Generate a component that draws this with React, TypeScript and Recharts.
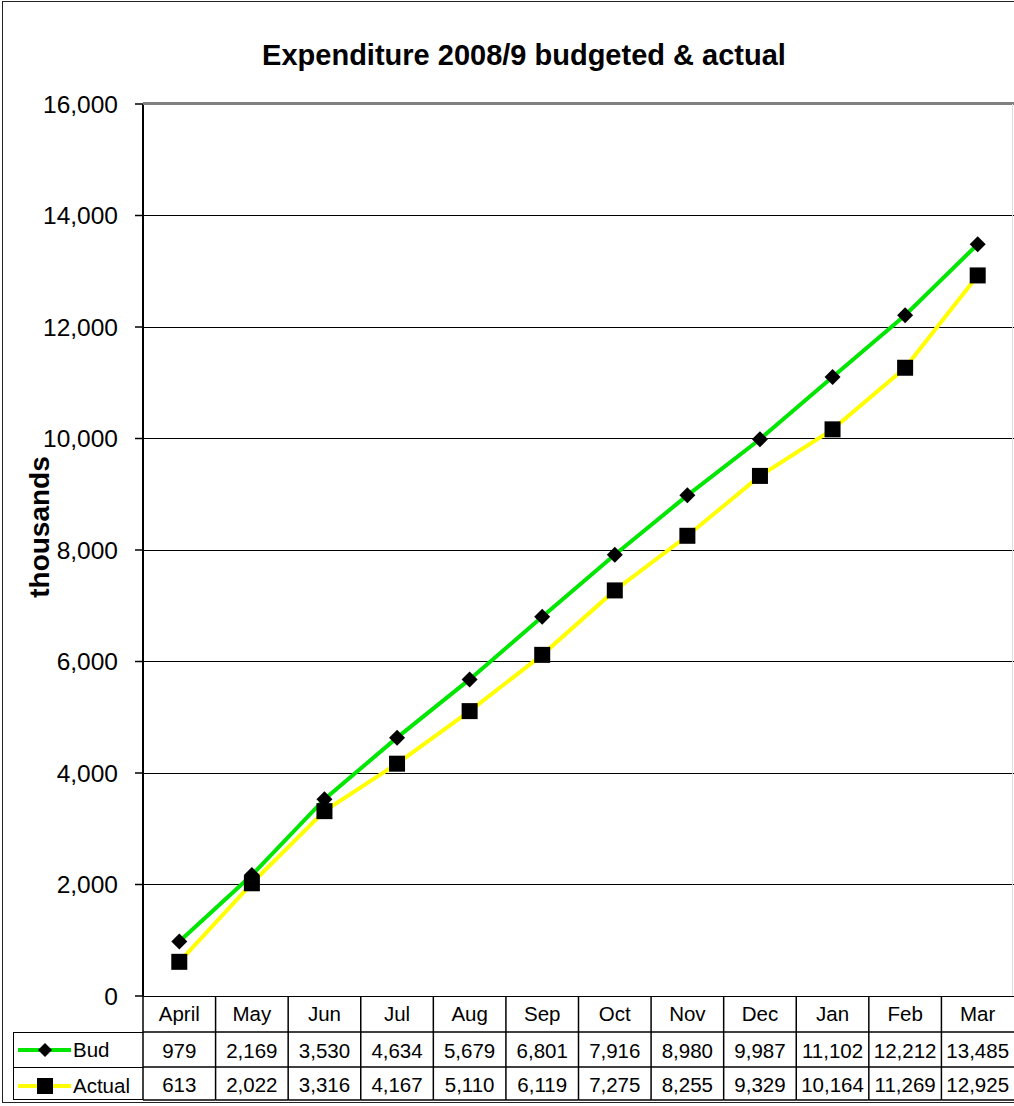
import { LineChart, Line, XAxis, YAxis, CartesianGrid } from 'recharts';

const months = ['April', 'May', 'Jun', 'Jul', 'Aug', 'Sep', 'Oct', 'Nov', 'Dec', 'Jan', 'Feb', 'Mar'];
const budgeted = [979, 2169, 3530, 4634, 5679, 6801, 7916, 8980, 9987, 11102, 12212, 13485];
const actual = [613, 2022, 3316, 4167, 5110, 6119, 7275, 8255, 9329, 10164, 11269, 12925];
const yTicks = [0, 2000, 4000, 6000, 8000, 10000, 12000, 14000, 16000];

const FONT = '"Liberation Sans", Arial, sans-serif';
const GREEN = '#00e600';
const YELLOW = '#ffff00';

const chartData = months.map((m, i) => ({ month: m, bud: budgeted[i], actual: actual[i] }));

const fmt = (v: number) => v.toLocaleString('en-US');

// plot area: x 143..1014, y 104..996
const COL_W = 871 / 12;

function TableTick(props: any) {
  const { x, y, payload, index } = props;
  const i = index ?? payload.index;
  const left = x - COL_W / 2;
  const top = y - 8; // tick y sits just below axis
  const rows = [top, top + 36, top + 71, top + 104];
  return (
    <g>
      <line x1={left} x2={left} y1={rows[0]} y2={rows[3]} stroke="#000" strokeWidth={1.5} />
      <line x1={left} x2={left + COL_W} y1={rows[1]} y2={rows[1]} stroke="#000" strokeWidth={1.5} />
      <line x1={left} x2={left + COL_W} y1={rows[2]} y2={rows[2]} stroke="#000" strokeWidth={1.5} />
      <line x1={left} x2={left + COL_W} y1={rows[3]} y2={rows[3]} stroke="#000" strokeWidth={1.5} />
      <text x={x} y={rows[0] + 25} textAnchor="middle" fontSize={20.5} fontFamily={FONT} fill="#000">
        {payload.value}
      </text>
      <text x={x} y={rows[1] + 26} textAnchor="middle" fontSize={20.5} fontFamily={FONT} fill="#000">
        {fmt(budgeted[i])}
      </text>
      <text x={x} y={rows[2] + 25} textAnchor="middle" fontSize={20.5} fontFamily={FONT} fill="#000">
        {fmt(actual[i])}
      </text>
    </g>
  );
}

function Diamond(props: any) {
  const { cx, cy } = props;
  if (cx == null || cy == null) return null;
  const r = 8;
  return <path d={`M${cx},${cy - r}L${cx + r},${cy}L${cx},${cy + r}L${cx - r},${cy}Z`} fill="#000" />;
}

function Square(props: any) {
  const { cx, cy } = props;
  if (cx == null || cy == null) return null;
  const s = 16;
  return <rect x={cx - s / 2} y={cy - s / 2} width={s} height={s} fill="#000" />;
}

export default function App() {
  return (
    <div style={{ position: 'absolute', left: 0, top: 0, width: 1014, height: 1106, background: '#fff', overflow: 'hidden' }}>
      <div
        style={{
          position: 'absolute',
          left: 2,
          top: 1,
          width: 1020,
          height: 1102,
          border: '1.5px solid #222',
          boxSizing: 'border-box',
        }}
      />
      <div
        style={{
          position: 'absolute',
          left: 0,
          width: 1048,
          top: 39,
          textAlign: 'center',
          fontFamily: FONT,
          fontWeight: 'bold',
          fontSize: 29,
          color: '#000',
        }}
      >
        Expenditure 2008/9 budgeted &amp; actual
      </div>
      <div style={{ position: 'absolute', left: 0, top: 0 }}>
        <LineChart width={1014} height={1106} data={chartData} margin={{ top: 104, right: 0, bottom: 6, left: 43 }}>
          <CartesianGrid vertical={false} stroke="#000" strokeWidth={1} shapeRendering="crispEdges" />
          <XAxis
            dataKey="month"
            interval={0}
            padding={{ left: COL_W / 2, right: COL_W / 2 }}
            axisLine={false}
            tickLine={false}
            height={104}
            tick={<TableTick />}
          />
          <YAxis
            width={100}
            domain={[0, 16000]}
            ticks={yTicks}
            tickFormatter={fmt}
            axisLine={{ stroke: '#000', strokeWidth: 2 }}
            tickLine={{ stroke: '#000', strokeWidth: 1.5 }}
            tickSize={8}
            tickMargin={17}
            tick={{ fontSize: 24.5, fill: '#000', fontFamily: FONT }}
            label={{
              value: 'thousands',
              angle: -90,
              position: 'insideLeft',
              offset: 0,
              dx: -4,
              dy: -23,
              style: { fontSize: 28, fontWeight: 'bold', fontFamily: FONT, fill: '#000', textAnchor: 'middle' },
            }}
          />
          <Line
            dataKey="bud"
            stroke={GREEN}
            strokeWidth={4}
            dot={<Diamond />}
            activeDot={false}
            isAnimationActive={false}
          />
          <Line
            dataKey="actual"
            stroke={YELLOW}
            strokeWidth={4}
            dot={<Square />}
            activeDot={false}
            isAnimationActive={false}
          />
        </LineChart>
      </div>
      {/* top border of plot area */}
      <div style={{ position: 'absolute', left: 143, top: 102, width: 871, height: 3, background: '#808080' }} />
      <div style={{ position: 'absolute', left: 1012, top: 104, width: 1, height: 892, background: '#ddd' }} />
      {/* legend key column of data table */}
      <div
        style={{
          position: 'absolute',
          left: 13,
          top: 1032,
          width: 130,
          height: 68,
          border: '1.5px solid #000',
          borderRight: 'none',
          boxSizing: 'border-box',
          fontFamily: FONT,
          fontSize: 20.5,
        }}
      >
        <div style={{ height: 35, borderBottom: '1.5px solid #000', display: 'flex', alignItems: 'center', boxSizing: 'border-box' }}>
          <svg width={57} height={20} style={{ marginLeft: 2 }}>
            <line x1={2} x2={55} y1={10} y2={10} stroke={GREEN} strokeWidth={4} />
            <path d="M29,3L36,10L29,17L22,10Z" fill="#000" />
          </svg>
          <span>Bud</span>
        </div>
        <div style={{ height: 31, display: 'flex', alignItems: 'center', paddingTop: 4, boxSizing: 'border-box' }}>
          <svg width={57} height={20} style={{ marginLeft: 2 }}>
            <line x1={2} x2={55} y1={10} y2={10} stroke={YELLOW} strokeWidth={4} />
            <rect x={21} y={2} width={16} height={16} fill="#000" />
          </svg>
          <span>Actual</span>
        </div>
      </div>
    </div>
  );
}
